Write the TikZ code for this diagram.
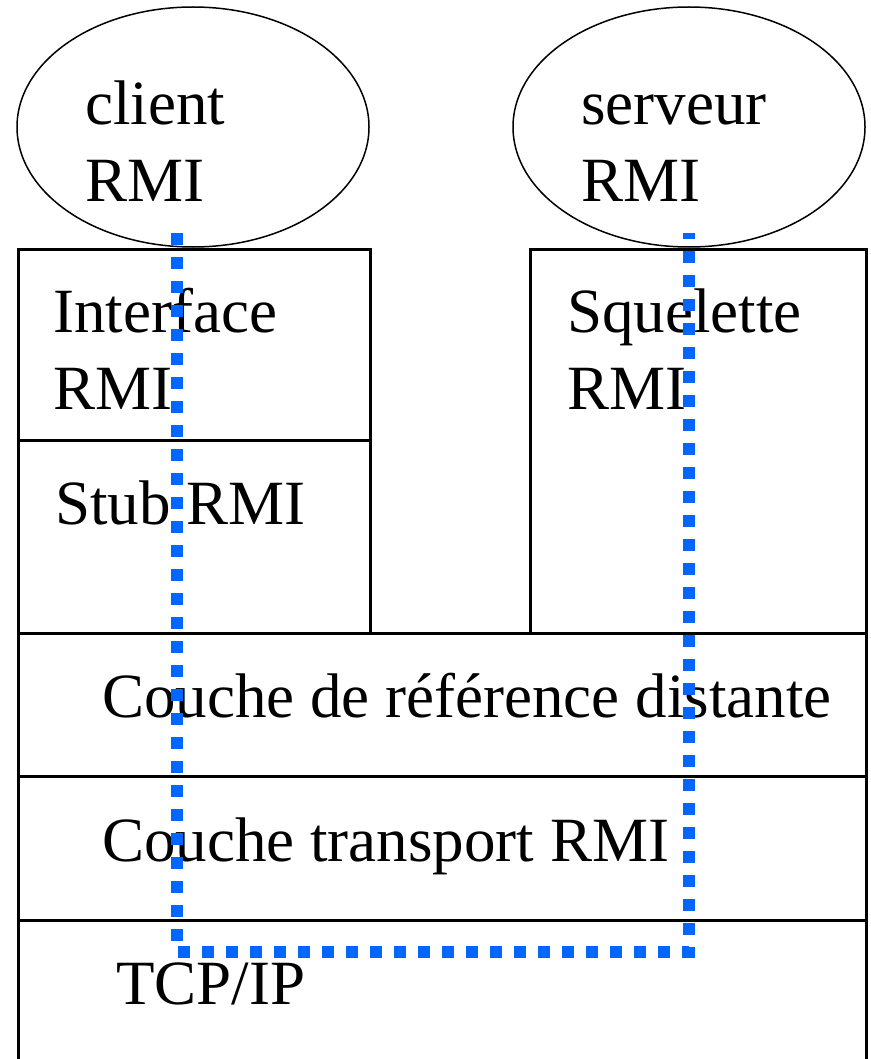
\documentclass[tikz,border=0pt]{standalone}
\usepackage{fontspec}
\setmainfont{Liberation Serif}
\usetikzlibrary{positioning, shapes.geometric}
\definecolor{rmiBlue}{HTML}{0066FF}
\tikzstyle{layer} =[draw, line width=2.5pt, anchor=north west, inner sep=0pt]
\tikzstyle{app} =[ellipse, draw, line width=1.5pt, inner sep=0pt, minimum width=352pt, minimum height=240pt]
\tikzstyle{layertext} =[anchor=base west, inner sep=0pt, align=left, font=\fontsize{63}{77}\selectfont]
\tikzstyle{callpath} =[rmiBlue, line width=12pt, dash pattern=on 12pt off 12pt]

\begin{document}
\begin{tikzpicture}[x=1pt, y=-1pt]
\useasboundingbox (0,0) rectangle (870,1059);
\clip (0,0) rectangle (870,1059);

\node (client) [app] at (193,127) {};
\node (serveur) [app] at (689,127) {};

\node (interface) [layer, minimum width=352pt, minimum height=191pt] at (17,248) {};
\node (stub) [layer, minimum width=352pt, minimum height=193pt] at (17,439) {};
\node (squelette) [layer, minimum width=336pt, minimum height=384pt] at (529,248) {};
\node (reference) [layer, minimum width=848pt, minimum height=143pt] at (17,632) {};
\node (transport) [layer, minimum width=848pt, minimum height=144pt] at (17,775) {};
\node (tcpip) [layer, minimum width=848pt, minimum height=170pt] at (17,919) {};

\node (clientText) [layertext] at (85,202) {client\\RMI};
\node (serveurText) [layertext] at (581,202) {serveur\\RMI};
\node (interfaceText) [layertext] at (53,409) {Interface\\RMI};
\node (squeletteText) [layertext] at (567,409) {Squelette\\RMI};
\node (stubText) [layertext] at (55,524) {Stub RMI};
\node (referenceText) [layertext] at (102,717) {Couche de référence distante};
\node (transportText) [layertext] at (102,861) {Couche transport RMI};
\node (tcpipText) [layertext] at (116,1004) {TCP/IP};

%appel distant
\coordinate (clientEnd) at (177,233);
\coordinate (serveurEnd) at (689,233);
\coordinate (bend) at (689,952);
\draw[callpath]
	(clientEnd) |- (bend) -- (serveurEnd);
\end{tikzpicture}
\end{document}
